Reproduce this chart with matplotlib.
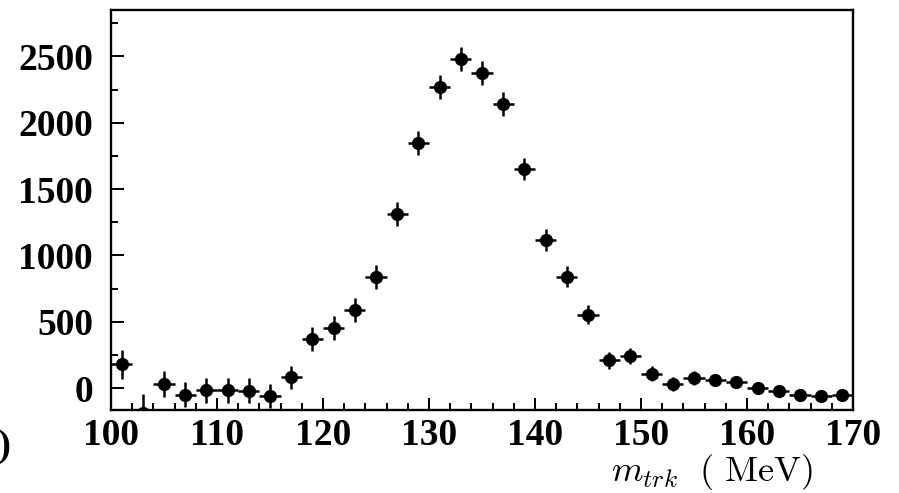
import matplotlib.pyplot as plt
from matplotlib.ticker import MultipleLocator

# 2 MeV bins, 100-170 MeV
mass = [101, 103, 105, 107, 109, 111, 113, 115, 117, 119, 121, 123, 125, 127,
        129, 131, 133, 135, 137, 139, 141, 143, 145, 147, 149, 151, 153, 155,
        157, 159, 161, 163, 165, 167, 169]
counts = [178, -190, 30, -50, -18, -18, -20, -58, 80, 372, 455, 590, 837, 1312,
          1847, 2269, 2480, 2375, 2141, 1651, 1118, 841, 553, 209, 239, 108, 30, 76,
          60, 48, -3, -20, -51, -63, -53]
errors = [107, 145, 98, 95, 95, 95, 95, 90, 90, 92, 92, 92, 92, 92,
          90, 90, 88, 88, 88, 85, 82, 78, 72, 62, 60, 55, 52, 50,
          48, 46, 45, 44, 43, 42, 42]
half_bin = 1.0

plt.rcParams['mathtext.fontset'] = 'cm'

fig = plt.figure(figsize=(8.99, 4.93), dpi=100)
ax = fig.add_axes([0.1235, 0.1684, 0.8253, 0.8113])

ax.errorbar(mass, counts, yerr=errors, xerr=half_bin, fmt='o', color='black',
            markersize=8.5, elinewidth=1.8, capsize=0)

ax.set_xlim(100, 170)
ax.set_ylim(-165, 2850)
ax.xaxis.set_major_locator(MultipleLocator(10))
ax.xaxis.set_minor_locator(MultipleLocator(2))
ax.yaxis.set_major_locator(MultipleLocator(500))
ax.yaxis.set_minor_locator(MultipleLocator(250))

ax.tick_params(which='both', direction='in', top=False, right=False, width=1.4)
ax.tick_params(which='major', length=9)
ax.tick_params(which='minor', length=5)
ax.tick_params(axis='y', pad=13)
ax.tick_params(axis='x', pad=6)
for s in ax.spines.values():
    s.set_linewidth(1.7)

for lab in ax.get_xticklabels() + ax.get_yticklabels():
    lab.set_fontfamily('Liberation Serif')
    lab.set_fontweight('bold')
    lab.set_fontsize(27)

fig.text(0.904, 0.024, r'$m_{trk}\ \ (\ \mathrm{MeV})$', fontsize=26,
         ha='right', va='baseline')
fig.text(0.012, 0.075, '(b)', fontsize=27, fontfamily='Liberation Serif',
         fontweight='bold', ha='right', va='baseline')

fig.savefig('out.png', dpi=100)
